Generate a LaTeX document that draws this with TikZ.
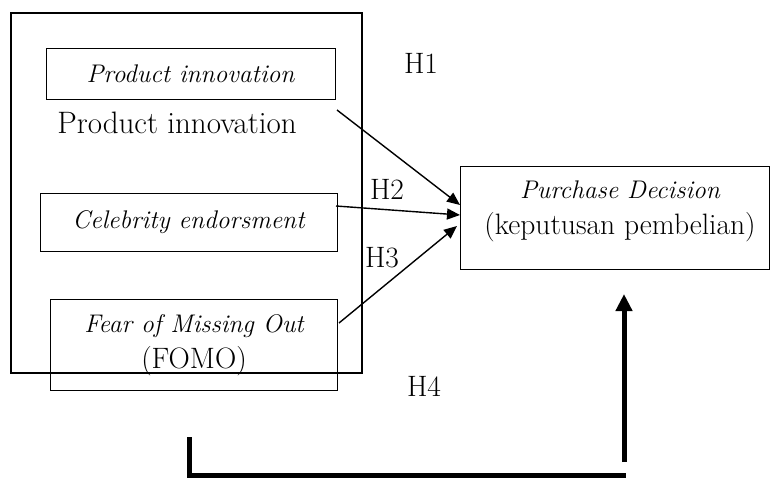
\documentclass[tikz,border=0pt]{standalone}
\usetikzlibrary{arrows.meta,calc}
\newcommand{\itsz}{\fontsize{25.5}{36}\selectfont\itshape}
\newcommand{\upsz}{\fontsize{29.5}{36}\selectfont\upshape}
\begin{document}
\begin{tikzpicture}[x=1pt,y=-1pt,
  box/.style={draw,line width=0.9pt,inner sep=0pt,outer sep=0pt},
  lbl/.style={font=\upsz,inner sep=0pt,outer sep=0pt},
  link/.style={line width=1.4pt,-{Triangle[length=13pt,width=11pt]}},
  heavy/.style={line width=5pt},
  heavyarrow/.style={line width=5pt,-{Triangle[length=17pt,width=16pt]}}]
\useasboundingbox (0,0) rectangle (770,478);
% outer frame
\node[box,line width=1.8pt,minimum width=351pt,minimum height=360pt] (outer) at (186.5,193) {};
% inner boxes
\node[box,lbl,font=\itsz,minimum width=289pt,minimum height=51pt] (pi) at (190.5,73.5) {Product innovation};
\node[lbl,font=\fontsize{31}{36}\selectfont] (pitext) at (177,123) {Product innovation};
\node[box,lbl,font=\itsz,minimum width=297pt,minimum height=58pt] (ce) at (188.5,222) {Celebrity endorsment};
\node[box,minimum width=287pt,minimum height=91pt] (fomo) at (193.5,344.5) {};
\node[lbl,align=center] (fomotext) at (194,345) {{\itsz Fear of Missing Out}\\{\upsz (FOMO)}};
% purchase decision
\node[box,minimum width=309pt,minimum height=103pt] (pd) at (614.5,217.5) {};
\node[lbl,align=center] (pdtext) at (620,211.5) {{\itsz Purchase Decision}\\{\upsz (keputusan pembelian)}};
% hypothesis labels
\node[lbl] (h1) at (421,63) {H1};
\node[lbl] (h2) at (387,189) {H2};
\node[lbl] (h3) at (382,258) {H3};
\node[lbl] (h4) at (424,386) {H4};
% arrow anchors
\coordinate (s1) at (337,110);
\coordinate (s2) at (336,206);
\coordinate (s3) at (339,323);
\coordinate (t1) at (460,205);
\coordinate (t2) at (460,215);
\coordinate (t3) at (457,226);
\draw[link] (s1) -- (t1);
\draw[link] (s2) -- (t2);
\draw[link] (s3) -- (t3);
% H4 bracket
\coordinate (b1) at (189.5,437);
\coordinate (b2) at (626,475);
\coordinate (b3) at (624,462);
\coordinate (b4) at (624,294);
\draw[heavy] (b1) |- (b2);
\draw[heavyarrow] (b3) -- (b4);
\end{tikzpicture}
\end{document}
